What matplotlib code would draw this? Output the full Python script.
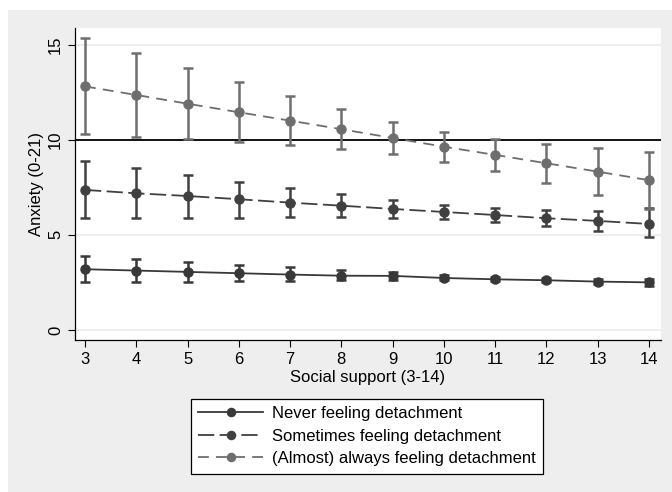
import numpy as np
import matplotlib
matplotlib.use("Agg")
import matplotlib.pyplot as plt

plt.rcParams["font.family"] = ["Liberation Sans", "DejaVu Sans"]

support = [3, 4, 5, 6, 7, 8, 9, 10, 11, 12, 13, 14]

never = [3.19, 3.12, 3.05, 2.98, 2.91, 2.85, 2.84, 2.73, 2.66, 2.61, 2.54, 2.50]
never_lo = [2.50, 2.50, 2.52, 2.56, 2.57, 2.60, 2.62, 2.60, 2.56, 2.50, 2.42, 2.30]
never_hi = [3.89, 3.71, 3.57, 3.43, 3.29, 3.15, 3.02, 2.90, 2.80, 2.72, 2.68, 2.70]

sometimes = [7.36, 7.18, 7.04, 6.87, 6.69, 6.53, 6.36, 6.20, 6.04, 5.87, 5.73, 5.57]
sometimes_lo = [5.90, 5.90, 5.90, 5.90, 5.95, 5.92, 5.90, 5.83, 5.68, 5.47, 5.20, 4.90]
sometimes_hi = [8.88, 8.50, 8.16, 7.79, 7.45, 7.15, 6.83, 6.58, 6.41, 6.30, 6.25, 6.43]

always = [12.80, 12.35, 11.89, 11.44, 11.00, 10.55, 10.09, 9.63, 9.20, 8.76, 8.32, 7.87]
always_lo = [10.32, 10.16, 10.02, 9.86, 9.70, 9.50, 9.23, 8.85, 8.36, 7.74, 7.08, 6.36]
always_hi = [15.33, 14.56, 13.77, 13.03, 12.28, 11.60, 10.95, 10.40, 10.05, 9.76, 9.55, 9.35]

yticks = [0, 5, 10, 15]
labels = ["Never feeling detachment",
          "Sometimes feeling detachment",
          "(Almost) always feeling detachment"]

fig = plt.figure(figsize=(6.72, 4.92), dpi=100)
fig.patch.set_facecolor("white")
# Stata-style grey graph region
fig.patches.append(plt.Rectangle((8 / 672, 0), 1, 1 - 10 / 492,
                                 transform=fig.transFigure,
                                 facecolor="#eeeeee", edgecolor="none", zorder=-5))

ax = fig.add_axes([75 / 672, 1 - 340 / 492, (661 - 75) / 672, (340 - 28) / 492])
ax.set_facecolor("white")

for y in yticks:
    ax.axhline(y, color="#ebebeb", lw=1.2, zorder=0)
ax.axhline(10, color="black", lw=1.3, zorder=1)

series = [
    (never, never_lo, never_hi, "#383838", "-"),
    (sometimes, sometimes_lo, sometimes_hi, "#404040", (0, (9, 3))),
    (always, always_lo, always_hi, "#6e6e6e", (0, (6, 4))),
]
handles = []
for (m, lo, hi, c, ls), lab in zip(series, labels):
    m = np.array(m)
    err = [m - np.array(lo), np.array(hi) - m]
    ax.errorbar(support, m, yerr=err, fmt="none", ecolor=c, elinewidth=1.8,
                capsize=3.5, capthick=1.8, zorder=2)
    h, = ax.plot(support, m, color=c, ls=ls, lw=1.3, marker="o",
                 markersize=6.5, markerfacecolor=c, markeredgecolor=c,
                 label=lab, zorder=3)
    handles.append(h)

ax.set_xlim(2.805, 14.235)
ax.set_ylim(-0.53, 15.87)
ax.set_xticks(support)
ax.set_yticks(yticks)
ax.tick_params(axis="both", direction="out", length=5, width=0.8,
               labelsize=12, colors="black")
for t in ax.get_yticklabels():
    t.set_rotation(90)
    t.set_va("center")
ax.spines["top"].set_visible(False)
ax.spines["right"].set_visible(False)
ax.spines["left"].set_linewidth(0.9)
ax.spines["bottom"].set_linewidth(0.9)

ax.set_xlabel("Social support (3-14)", fontsize=12, labelpad=2)
ax.set_ylabel("Anxiety (0-21)", fontsize=12, labelpad=3)

leg = fig.legend(handles=handles, labels=labels, loc="center",
                 bbox_to_anchor=(367 / 672, 1 - 436 / 492), ncol=1,
                 fontsize=12, frameon=True, fancybox=False, framealpha=1,
                 handlelength=3.9, markerscale=0.9, borderpad=0.45,
                 labelspacing=0.45, handletextpad=0.5)
leg.get_frame().set_edgecolor("black")
leg.get_frame().set_facecolor("white")
leg.get_frame().set_linewidth(0.9)

fig.savefig("out.png", dpi=100)
